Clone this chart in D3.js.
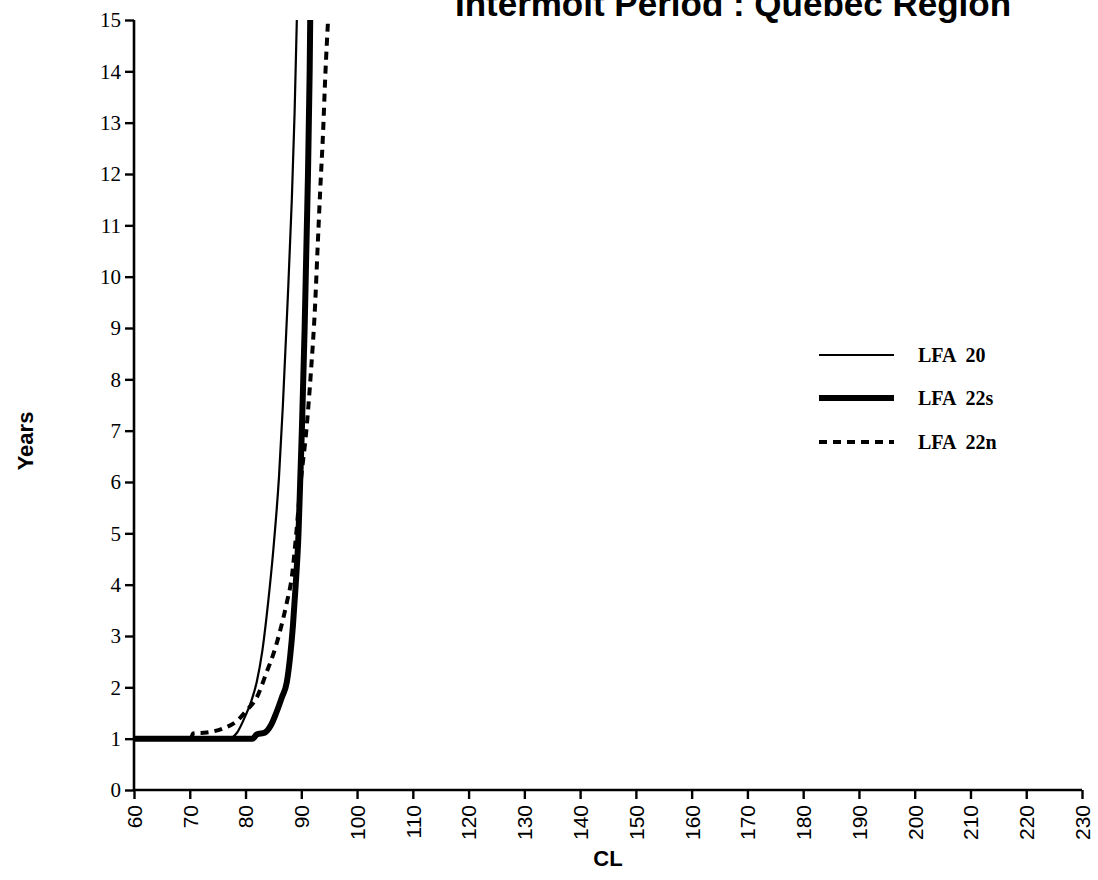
<!DOCTYPE html>
<html>
<head>
<meta charset="utf-8">
<script src="https://cdn.jsdelivr.net/npm/d3@7"></script>
<style>
  html, body { margin: 0; padding: 0; background: #fff; }
  svg { display: block; }
</style>
</head>
<body>
<svg id="chart" width="1098" height="880"></svg>
<script>
// Intermolt period (years) against carapace length (CL, mm)
const xTicks = [60, 70, 80, 90, 100, 110, 120, 130, 140, 150, 160, 170, 180, 190, 200, 210, 220, 230];
const yTicks = [0, 1, 2, 3, 4, 5, 6, 7, 8, 9, 10, 11, 12, 13, 14, 15];

const seriesNames = ["LFA  20", "LFA  22s", "LFA  22n"];

// LFA 20 : [CL, years]
const lfa20 = [
  [60, 1], [77, 1], [78.5, 1.12], [80, 1.45], [81, 1.72], [82, 2.1], [83, 2.7],
  [84, 3.6], [85, 4.7], [86, 6.1], [86.7, 7.5], [87.5, 9.4], [88.3, 11.5],
  [88.8, 13.2], [89.2, 15]
];
// LFA 22s
const lfa22s = [
  [60, 1], [81.3, 1], [82, 1.08], [83.5, 1.12], [84.5, 1.25], [85.5, 1.5],
  [86.5, 1.8], [87.4, 2.1], [88, 2.6], [88.5, 3.2], [89, 4.0], [89.5, 5.0],
  [89.8, 6.0], [90.1, 7.0], [90.35, 8.0], [90.6, 9], [90.8, 10], [91.0, 11],
  [91.2, 12], [91.35, 13], [91.5, 14], [91.6, 15]
];
// LFA 22n
const lfa22n = [
  [60, 1], [70.2, 1], [70.6, 1.1], [73, 1.12], [76, 1.2], [78.5, 1.35],
  [80.2, 1.55], [82, 1.8], [83.8, 2.3], [85, 2.65], [86.2, 3.1], [87.4, 3.65],
  [88.3, 4.15], [89.1, 5.0], [89.9, 6.0], [90.9, 7.0], [91.7, 8.1], [92.5, 9.5],
  [92.9, 10.5], [93.4, 11.7], [93.9, 12.8], [94.3, 13.9], [94.8, 15]
];

const svg = d3.select("#chart");

const x = d3.scaleLinear().domain([60, 230]).range([134, 1082]);
const y = d3.scaleLinear().domain([0, 15]).range([790, 20]);

// title (runs off the top edge)
svg.append("text")
  .attr("x", 733).attr("y", 16)
  .attr("text-anchor", "middle")
  .attr("font-family", "Liberation Sans, Arial, sans-serif")
  .attr("font-weight", "bold")
  .attr("font-size", 35)
  .text("Intermolt Period : Quebec Region");

// y axis
const yAxis = svg.append("g")
  .attr("transform", `translate(${x(60)},0)`)
  .call(d3.axisLeft(y).tickValues(yTicks).tickSize(9).tickPadding(4).tickFormat(d3.format("d")));
yAxis.select(".domain").attr("stroke-width", 2.6).attr("d", `M0,${y(15)}V${y(0)}`);
yAxis.selectAll(".tick line").attr("stroke-width", 2.4);
yAxis.selectAll(".tick text")
  .attr("font-family", "Liberation Serif, Times New Roman, serif")
  .attr("font-size", 21)
  .attr("fill", "#000");

// x axis
const xAxis = svg.append("g")
  .attr("transform", `translate(0,${y(0)})`)
  .call(d3.axisBottom(x).tickValues(xTicks).tickSize(9).tickFormat(d3.format("d")));
xAxis.select(".domain").attr("stroke-width", 2.6).attr("d", `M${x(60)},0H${x(230)}`);
xAxis.selectAll(".tick line").attr("stroke-width", 2.4);
xAxis.selectAll(".tick text")
  .attr("font-family", "Liberation Sans, Arial, sans-serif")
  .attr("font-size", 21)
  .attr("fill", "#000")
  .attr("text-anchor", "end")
  .attr("dy", "0.35em")
  .attr("transform", "translate(0,15) rotate(-90)")
  .attr("x", 0).attr("y", 0);

// axis titles
svg.append("text")
  .attr("transform", `translate(33,${441}) rotate(-90)`)
  .attr("text-anchor", "middle")
  .attr("font-family", "Liberation Sans, Arial, sans-serif")
  .attr("font-weight", "bold")
  .attr("font-size", 22)
  .text("Years");

svg.append("text")
  .attr("x", 608).attr("y", 866)
  .attr("text-anchor", "middle")
  .attr("font-family", "Liberation Sans, Arial, sans-serif")
  .attr("font-weight", "bold")
  .attr("font-size", 22)
  .text("CL");

// curves
const line = d3.line()
  .x(d => x(d[0]))
  .y(d => y(d[1]))
  .curve(d3.curveMonotoneX);

const styles = [
  { width: 2.2, dash: null },
  { width: 6, dash: null },
  { width: 4, dash: "8,6" }
];
const allSeries = [lfa20, lfa22s, lfa22n];

// draw the thick series first so the thin curve stays visible
[1, 0, 2].forEach(i => {
  svg.append("path")
    .datum(allSeries[i])
    .attr("fill", "none")
    .attr("stroke", "#000")
    .attr("stroke-width", styles[i].width)
    .attr("stroke-dasharray", styles[i].dash)
    .attr("d", line);
});

// legend
const legendY = [355, 398, 442];
const legend = svg.append("g");
seriesNames.forEach((name, i) => {
  legend.append("line")
    .attr("x1", 819).attr("x2", 894)
    .attr("y1", legendY[i]).attr("y2", legendY[i])
    .attr("stroke", "#000")
    .attr("stroke-width", styles[i].width)
    .attr("stroke-dasharray", styles[i].dash);
  legend.append("text")
    .attr("x", 918).attr("y", legendY[i])
    .attr("dy", "0.35em")
    .attr("font-family", "Liberation Serif, Times New Roman, serif")
    .attr("font-weight", "bold")
    .attr("font-size", 20)
    .attr("xml:space", "preserve")
    .style("white-space", "pre")
    .text(name);
});
</script>
</body>
</html>
